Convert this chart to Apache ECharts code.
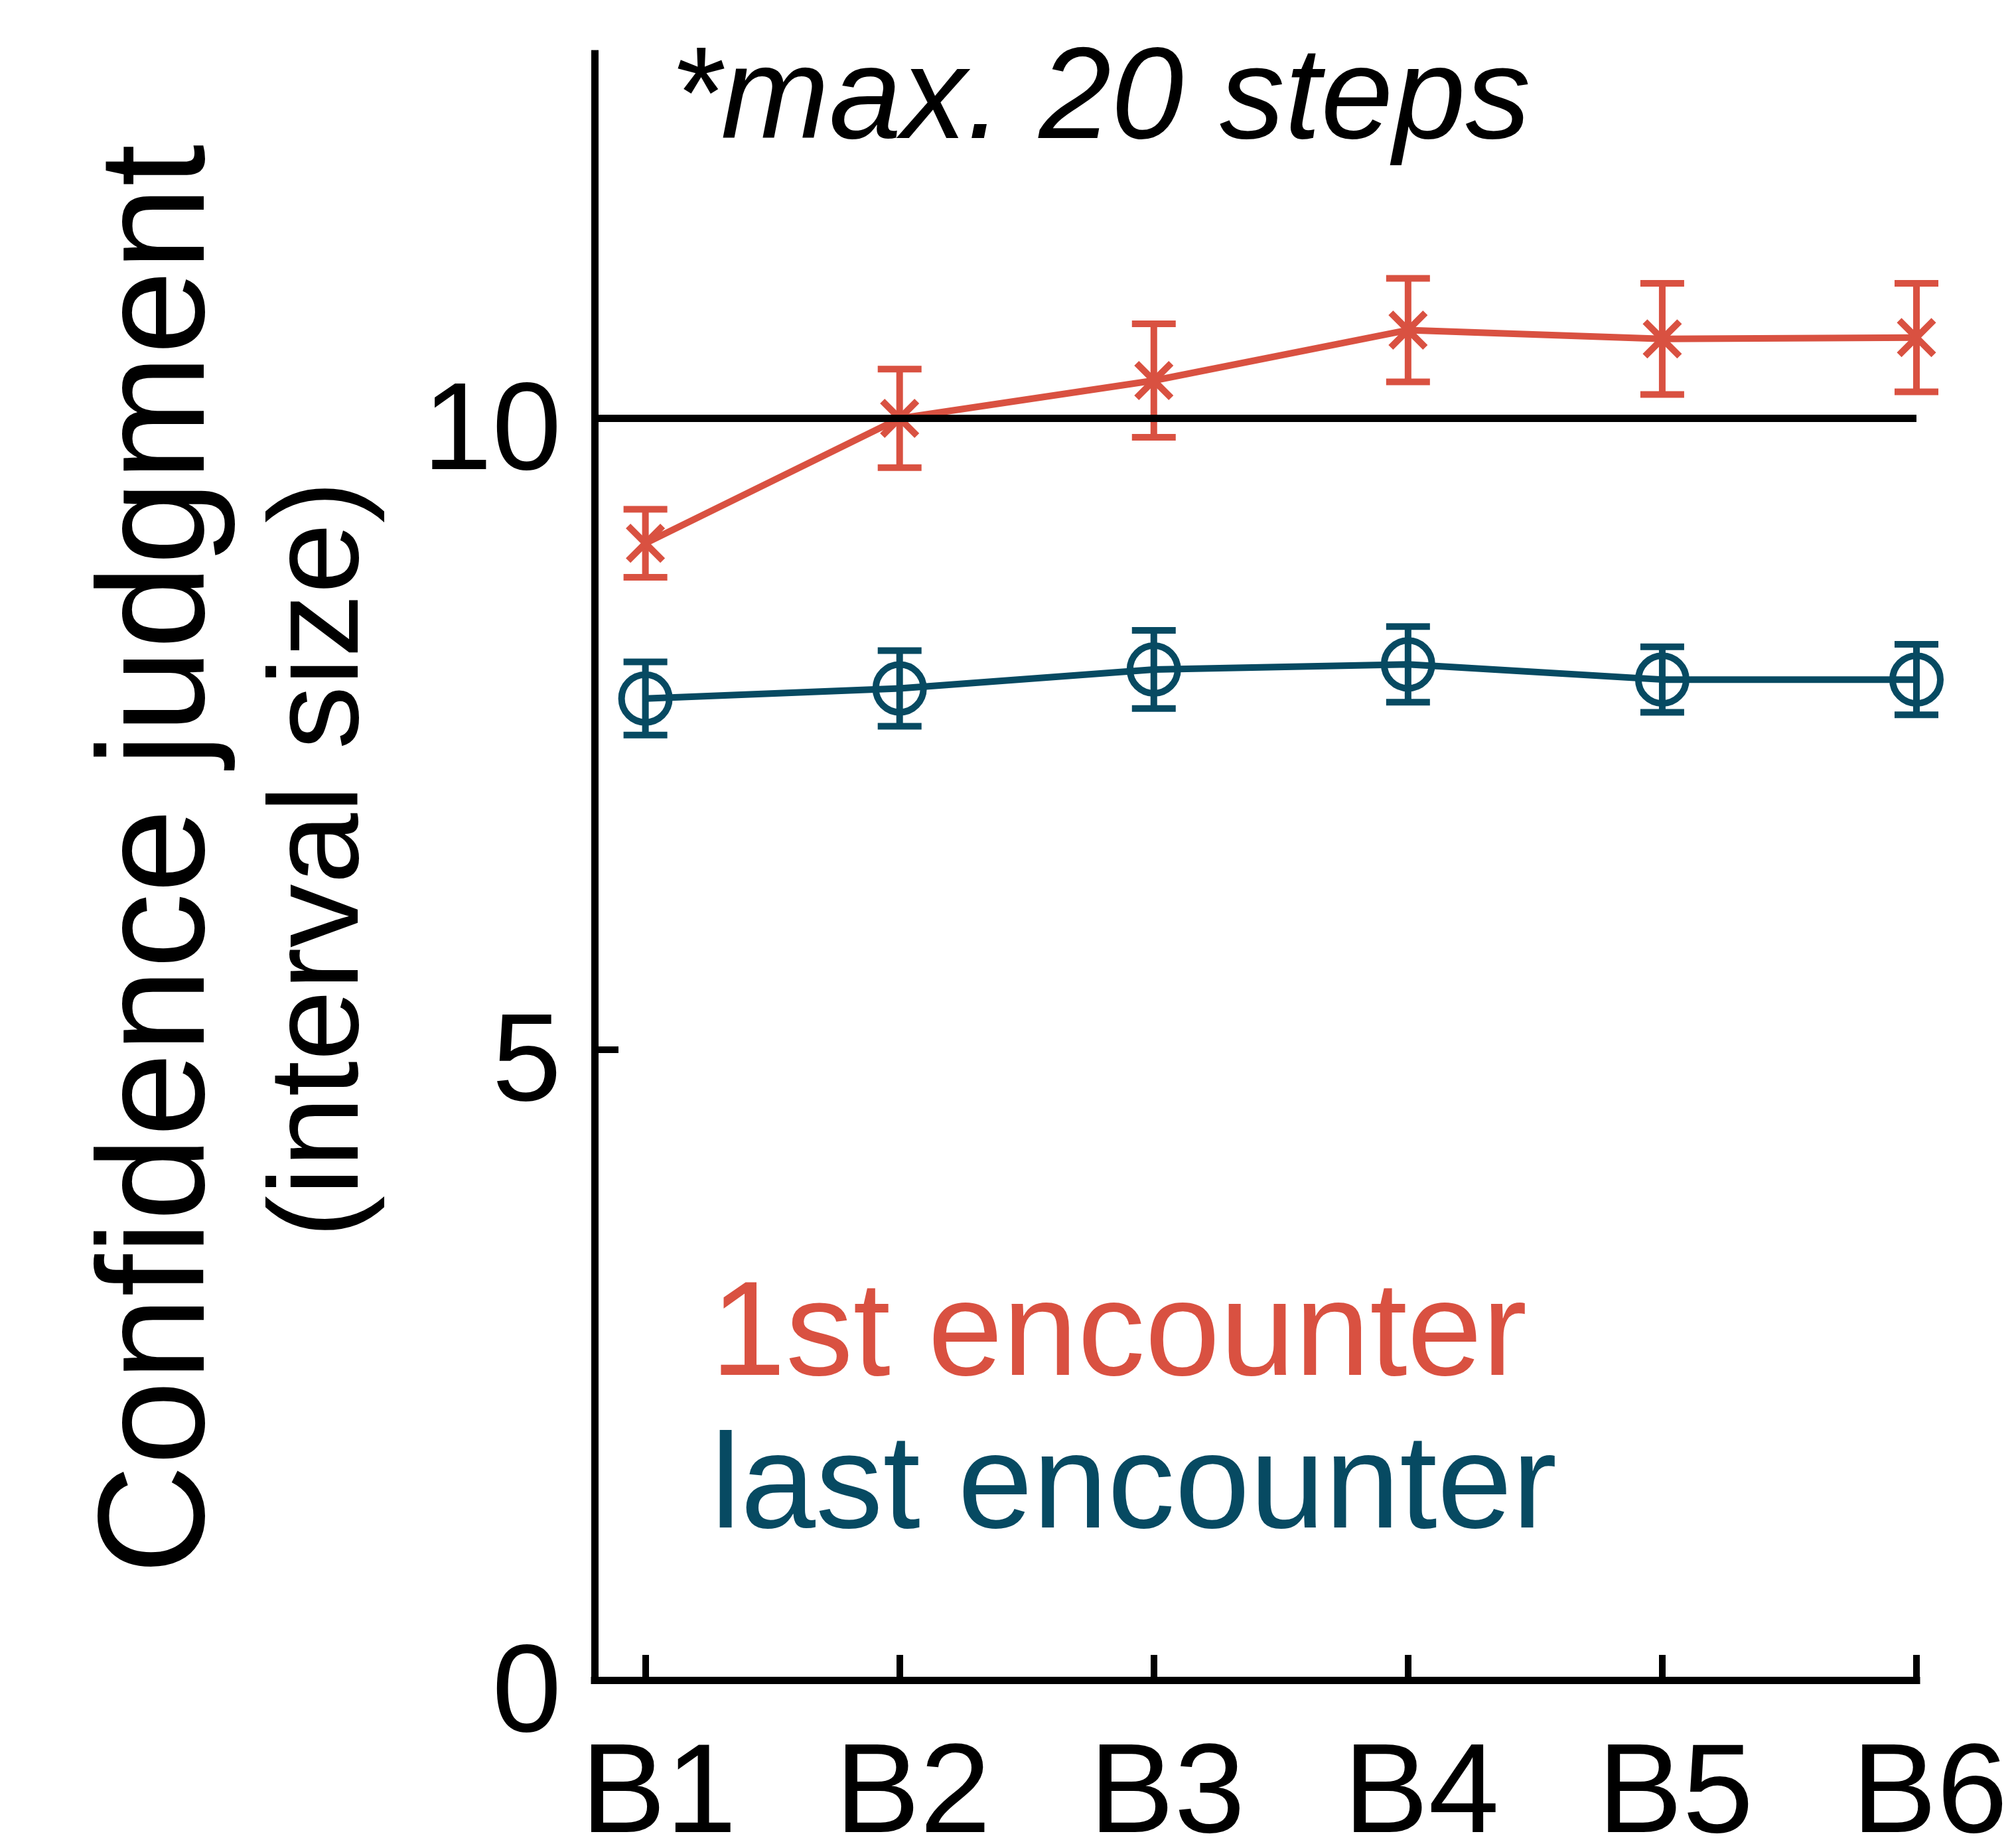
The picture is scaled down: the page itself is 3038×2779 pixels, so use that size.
<!DOCTYPE html>
<html>
<head>
<meta charset="utf-8">
<script src="https://cdn.jsdelivr.net/npm/echarts@6/dist/echarts.min.js"></script>
<style>
  html, body { margin: 0; padding: 0; background: #ffffff; }
  #chart { width: 3038px; height: 2779px; }
</style>
</head>
<body>
<div id="chart"></div>
<script>
// ---- data ----
const categories = ['B1', 'B2', 'B3', 'B4', 'B5', 'B6'];
const firstMean  = [9.01, 10.00, 10.30, 10.70, 10.63, 10.64];
const firstErr   = [0.27, 0.39, 0.45, 0.41, 0.44, 0.43];
const lastMean   = [7.78, 7.86, 8.01, 8.05, 7.93, 7.93];
const lastErr    = [0.29, 0.30, 0.31, 0.30, 0.26, 0.28];
const yTicks     = [0, 5, 10];
const refLine    = 10;
const seriesNames = ['1st encounter', 'last encounter'];

const RED = '#D95141';
const BLUE = '#074A62';
const FONT = '"Liberation Sans", Arial, Helvetica, sans-serif';

const xTicks = categories.map((c, i) => i + 1);
const toPoints = (m) => m.map((v, i) => [i + 1, v]);
const toBars = (m, e) => m.map((v, i) => [i + 1, v - e[i], v + e[i]]);

function errRender(color) {
  return function (params, api) {
    const x = api.value(0);
    const lo = api.coord([x, api.value(1)]);
    const hi = api.coord([x, api.value(2)]);
    const hw = 33;
    const st = { stroke: color, lineWidth: 10 };
    return {
      type: 'group',
      children: [
        { type: 'line', shape: { x1: hi[0], y1: hi[1], x2: lo[0], y2: lo[1] }, style: st },
        { type: 'line', shape: { x1: hi[0] - hw, y1: hi[1], x2: hi[0] + hw, y2: hi[1] }, style: st },
        { type: 'line', shape: { x1: lo[0] - hw, y1: lo[1], x2: lo[0] + hw, y2: lo[1] }, style: st }
      ]
    };
  };
}

const chart = echarts.init(document.getElementById('chart'), null, { renderer: 'canvas' });

const option = {
  animation: false,
  backgroundColor: '#ffffff',
  title: {
    text: '*max. 20 steps',
    left: 1005,
    top: 50,
    textStyle: { fontFamily: FONT, fontSize: 196, fontStyle: 'italic', fontWeight: 'normal', color: '#000' }
  },
  legend: {
    orient: 'vertical',
    left: 1066,
    top: 1915,
    padding: 0,
    itemWidth: 0,
    itemHeight: 0,
    itemGap: 27,
    icon: 'none',
    selectedMode: false,
    data: [
      { name: seriesNames[0], textStyle: { color: RED } },
      { name: seriesNames[1], textStyle: { color: BLUE } }
    ],
    textStyle: { fontFamily: FONT, fontSize: 203, lineHeight: 200 }
  },
  graphic: [
    {
      type: 'text', x: 244, y: 1295, rotation: Math.PI / 2,
      style: { text: 'Confidence judgment', font: '228px ' + FONT, fill: '#000', textAlign: 'center', textVerticalAlign: 'middle' }
    },
    {
      type: 'text', x: 486, y: 1295, rotation: Math.PI / 2,
      style: { text: '(interval size)', font: '192px ' + FONT, fill: '#000', textAlign: 'center', textVerticalAlign: 'middle' }
    }
  ],
  grid: { left: 896, top: 81, width: 1992, height: 2451, containLabel: false, outerBoundsMode: 'none' },
  xAxis: {
    type: 'value',
    min: 0.8,
    max: 6,
    axisLine: { show: true, lineStyle: { color: '#000', width: 11, cap: 'square' } },
    axisTick: { show: true, inside: true, length: 38, customValues: xTicks, lineStyle: { color: '#000', width: 10 } },
    axisLabel: {
      customValues: xTicks,
      formatter: (v) => categories[Math.round(v) - 1],
      fontFamily: FONT, fontSize: 192, color: '#000', margin: 80,
      padding: [0, 0, 0, 40]
    },
    splitLine: { show: false }
  },
  yAxis: {
    type: 'value',
    min: 0,
    max: 12.89,
    axisLine: { show: true, lineStyle: { color: '#000', width: 11, cap: 'square' } },
    axisTick: { show: true, inside: true, length: 36, customValues: yTicks, lineStyle: { color: '#000', width: 10 } },
    axisLabel: {
      customValues: yTicks,
      fontFamily: FONT, fontSize: 188, color: '#000', margin: 50,
      verticalAlign: 'top', lineHeight: 50
    },
    splitLine: { show: false }
  },
  series: [
    {
      name: 'err1', type: 'custom', renderItem: errRender(RED),
      data: toBars(firstMean, firstErr), encode: { x: 0, y: [1, 2] }, z: 3, silent: true
    },
    {
      name: 'err2', type: 'custom', renderItem: errRender(BLUE),
      data: toBars(lastMean, lastErr), encode: { x: 0, y: [1, 2] }, z: 3, silent: true
    },
    {
      name: seriesNames[0], type: 'line', data: toPoints(firstMean),
      symbol: 'path://M0,0L1,1M1,0L0,1', symbolSize: 52,
      itemStyle: { color: RED, borderColor: RED, borderWidth: 10 },
      lineStyle: { color: RED, width: 10 },
      emphasis: { disabled: true },
      z: 4,
      markLine: {
        silent: true, symbol: ['none', 'none'], label: { show: false },
        lineStyle: { color: '#000', width: 11, type: 'solid' },
        data: [{ yAxis: refLine }], z: 6
      }
    },
    {
      name: seriesNames[1], type: 'line', data: toPoints(lastMean),
      symbol: 'circle', symbolSize: 72,
      itemStyle: { color: 'rgba(0,0,0,0)', borderColor: BLUE, borderWidth: 10 },
      lineStyle: { color: BLUE, width: 10 },
      emphasis: { disabled: true },
      z: 4
    }
  ]
};
chart.setOption(option);
</script>
</body>
</html>
